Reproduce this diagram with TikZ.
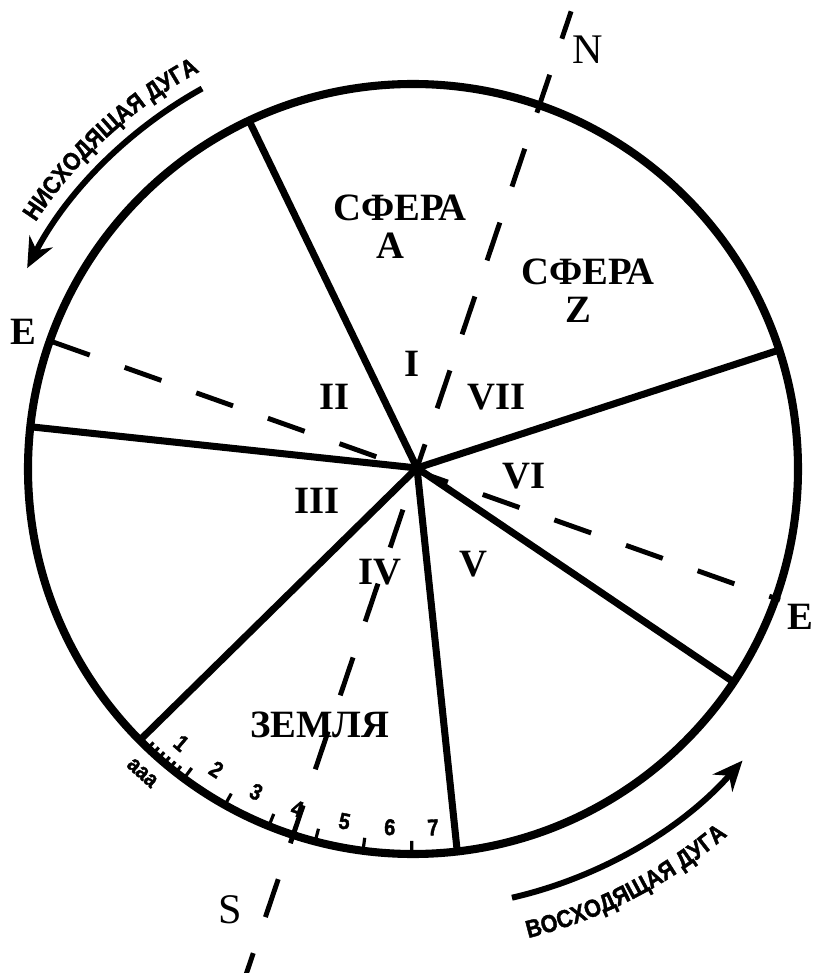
\documentclass[tikz,border=0pt]{standalone}
\usepackage{fontspec}
\setmainfont{Liberation Serif}
\newfontfamily\arcofont{Liberation Sans}[FakeStretch=0.88, BoldFeatures={FakeBold=1.6}]
\usetikzlibrary{arrows.meta,decorations.text}

\begin{document}
\begin{tikzpicture}[
    circulo/.style={line width=2.3pt},
    radio/.style={line width=2pt, line cap=round},
    eje/.style={line width=1.4pt, dash pattern=on 0.40cm off 0.38cm},
    flecha/.style={line width=1.7pt, -{Stealth[length=0.30cm,width=0.26cm]}},
    marca/.style={line width=0.9pt},
    sector/.style={font=\bfseries\fontsize{11}{13}\selectfont},
    polo/.style={font=\fontsize{12}{14}\selectfont},
    cifra/.style={font=\arcofont\bfseries\fontsize{6.5}{7}\selectfont}
]
    \useasboundingbox (-4.13,-5.04) rectangle (4.00,4.69);
    \coordinate (O) at (0,0);
    \coordinate (H) at (0.04,0.01);

    % Circulo
    \draw[circulo] (O) circle (3.85);

    % Radios desde el centro
    \foreach \a in {115.2,18,173.7,224.8,276.6,326.4}
        \draw[radio] (H) -- (\a:3.85);

    % Eje E-E
    \coordinate (E1) at (-3.60,1.27);
    \coordinate (E2) at (3.67,-1.31);
    \draw[eje, dash pattern=on 0.39cm off 0.37cm] (E1) -- (E2);

    % Eje N-S
    \draw[eje, dash phase=0.15cm] (H) -- ++(71.35:4.82) coordinate (Nf);
    \draw[eje, dash phase=0.34cm] (H) -- ++(251.35:5.45) coordinate (Sf);

    % Escala
    \foreach \a in {226.5,227.6,228.7,229.8,230.9,232.0}
        \draw[marca] (\a:3.85) -- (\a:3.77);
    \foreach \i in {0,...,5}
        \draw[marca] ({233.5+7.26*\i}:3.85) -- ({233.5+7.26*\i}:3.72);
    \foreach \n/\a in {1/229.8,2/236.8,3/244.1,4/251.2,5/259.0,6/266.3,7/273.2}
        \node[cifra, rotate=\a+90] (c\n) at (\a:3.59) {\n};
    \node[cifra, rotate=318] (aaa) at (228.3:4.07) {ааа};

    % Arcos exteriores
    \draw[flecha] (119:4.35) arc[start angle=119, end angle=152.5, radius=4.35];
    \draw[flecha] (283:4.40) arc[start angle=283, end angle=318.5, radius=4.40];
    \path[decorate, decoration={text along path, text align=center,
        text={|\arcofont\bfseries\fontsize{7}{8}\selectfont|НИСХОДЯЩАЯ ДУГА}}]
        (150:4.51) arc[start angle=150, end angle=115, radius=4.51];
    \path[decorate, decoration={text along path, text align=center,
        text={|\arcofont\bfseries\fontsize{7}{8}\selectfont|ВОСХОДЯЩАЯ ДУГА}}]
        (280:4.83) arc[start angle=280, end angle=314.5, radius=4.83];

    % Rotulos
    \node[polo] (N) at (1.75,4.19) {N};
    \node[polo] (S) at (-1.83,-4.41) {S};
    \node[sector] (Eizq) at (-3.90,1.37) {E};
    \node[sector] (Eder) at (3.87,-1.48) {E};
    \node[sector] (sfA) at (-0.13,2.61) {СФЕРА};
    \node[sector] (A) at (-0.23,2.23) {A};
    \node[sector] (sfZ) at (1.75,1.97) {СФЕРА};
    \node[sector] (Z) at (1.65,1.59) {Z};
    \node[sector] (zem) at (-0.93,-2.56) {ЗЕМЛЯ};

    % Sectores
    \node[sector] (s1) at (-0.01,1.05) {I};
    \node[sector] (s2) at (-0.78,0.72) {II};
    \node[sector] (s3) at (-0.96,-0.32) {III};
    \node[sector] (s4) at (-0.33,-1.03) {IV};
    \node[sector] (s5) at (0.60,-0.95) {V};
    \node[sector] (s6) at (1.11,-0.07) {VI};
    \node[sector] (s7) at (0.84,0.72) {VII};
\end{tikzpicture}
\end{document}
